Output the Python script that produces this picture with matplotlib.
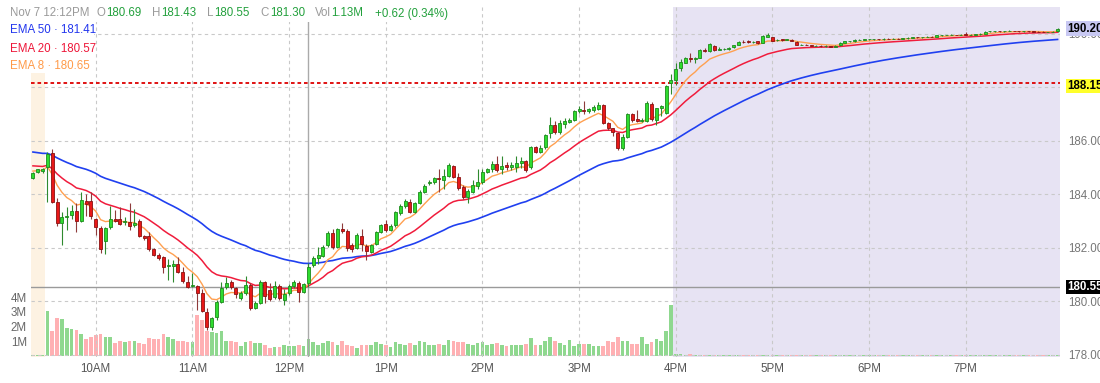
import matplotlib
matplotlib.use("Agg")
import matplotlib.pyplot as plt
from matplotlib.patches import Rectangle
import numpy as np

plt.rcParams['font.family'] = ['Liberation Sans', 'DejaVu Sans']

# ---------------- data (3-minute bars, first bar 9:21) ----------------
start_minute = 9 * 60 + 21
bar_step = 3

opens = [184.61, 184.83, 184.88, 185.04, 185.54, 183.73, 182.95, 183.17, 183.23, 183.38,
         183.00, 183.76, 183.76, 183.10, 182.74, 182.27, 182.77, 183.08, 183.08, 182.97,
         182.98, 182.85, 183.00, 182.45, 182.45, 181.95, 181.74, 181.65, 181.33, 181.33,
         181.39, 181.09, 180.74, 180.58, 180.58, 180.33, 179.62, 179.06, 179.41, 179.99,
         180.53, 180.72, 180.49, 180.12, 180.31, 180.62, 179.77, 179.96, 180.74, 180.43,
         180.18, 180.59, 180.06, 180.31, 180.58, 180.68, 180.37, 180.69, 181.36, 181.62,
         181.70, 182.11, 182.55, 182.05, 182.70, 182.64, 182.11, 182.00, 182.45, 182.07,
         181.86, 182.15, 182.61, 182.89, 182.67, 182.86, 183.32, 183.57, 183.73, 183.36,
         183.69, 184.10, 184.42, 184.46, 184.62, 184.54, 184.69, 185.08, 184.64, 184.29,
         183.90, 184.10, 184.32, 184.48, 184.85, 184.94, 185.13, 184.94, 185.10, 185.02,
         185.04, 185.17, 185.26, 185.02, 185.76, 185.60, 185.76, 186.29, 186.60, 186.35,
         186.64, 186.72, 186.79, 187.13, 187.17, 187.13, 187.16, 187.21, 187.35, 186.66,
         186.47, 186.29, 185.72, 186.16, 187.00, 186.81, 186.74, 186.76, 187.38, 186.79,
         187.22, 187.04, 188.18, 188.28, 188.72, 188.93, 189.10, 189.07, 189.12, 189.42,
         189.37, 189.55, 189.42, 189.45, 189.45, 189.50, 189.59, 189.71, 189.72, 189.70,
         189.72, 189.68, 189.90, 189.88, 189.77, 189.80, 189.78, 189.79, 189.71, 189.60,
         189.60, 189.58, 189.56, 189.56, 189.55, 189.54, 189.52, 189.58, 189.68, 189.72,
         189.72, 189.78, 189.78, 189.80, 189.80, 189.81, 189.80, 189.82, 189.81, 189.83,
         189.82, 189.84, 189.86, 189.88, 189.87, 189.88, 189.90, 189.89, 189.95, 189.96,
         189.96, 189.97, 189.96, 190.00, 189.97, 189.98, 189.99, 190.00, 190.10, 190.10,
         190.11, 190.10, 190.11, 190.12, 190.11, 190.10, 190.11, 190.10, 190.09, 190.08,
         190.07, 190.07, 190.10]
highs = [184.85, 184.97, 185.00, 185.58, 185.69, 183.86, 183.36, 183.54, 183.60, 183.67,
         184.10, 184.00, 184.10, 183.12, 182.82, 182.78, 183.58, 183.42, 183.54, 183.15,
         183.67, 183.46, 183.10, 182.50, 182.60, 182.00, 181.80, 181.70, 181.58, 181.55,
         181.65, 181.30, 180.95, 181.05, 180.62, 180.45, 179.76, 179.42, 180.05, 180.74,
         180.93, 180.80, 180.55, 180.40, 180.96, 180.70, 180.00, 180.80, 180.78, 180.70,
         180.75, 180.65, 180.45, 180.65, 180.80, 180.75, 180.70, 181.43, 181.70, 182.05,
         182.10, 182.62, 182.70, 182.75, 182.95, 182.70, 182.20, 182.55, 182.70, 182.15,
         182.15, 182.62, 182.90, 183.05, 182.88, 183.40, 183.65, 183.85, 183.85, 183.72,
         184.15, 184.40, 184.55, 184.65, 184.95, 184.95, 185.19, 185.12, 184.80, 184.35,
         184.20, 184.55, 184.95, 184.95, 185.00, 185.25, 185.45, 185.45, 185.20, 185.20,
         185.45, 185.40, 185.30, 185.80, 185.80, 185.85, 186.25, 186.88, 186.75, 186.80,
         186.85, 186.85, 187.15, 187.30, 187.50, 187.25, 187.35, 187.45, 187.40, 186.70,
         186.50, 186.35, 186.25, 187.05, 187.05, 187.16, 186.85, 187.50, 187.45, 187.25,
         187.35, 188.10, 188.50, 188.90, 189.05, 189.15, 189.30, 189.15, 189.45, 189.47,
         189.65, 189.60, 189.50, 189.48, 189.50, 189.60, 189.72, 189.78, 189.76, 189.74,
         189.74, 189.95, 190.02, 189.90, 189.80, 189.82, 189.82, 189.82, 189.73, 189.63,
         189.62, 189.60, 189.58, 189.58, 189.57, 189.56, 189.57, 189.70, 189.74, 189.74,
         189.80, 189.80, 189.82, 189.82, 189.83, 189.82, 189.84, 189.84, 189.85, 189.85,
         189.86, 189.88, 189.90, 189.89, 189.90, 189.92, 189.91, 189.97, 189.98, 189.98,
         189.99, 189.98, 190.00, 190.06, 190.00, 190.01, 190.02, 190.10, 190.12, 190.13,
         190.13, 190.13, 190.14, 190.13, 190.13, 190.13, 190.13, 190.12, 190.11, 190.10,
         190.09, 190.10, 190.22]
lows = [184.58, 184.80, 184.82, 183.73, 183.70, 182.82, 182.11, 182.67, 183.08, 182.61,
        182.98, 183.20, 183.10, 182.50, 181.80, 181.78, 182.70, 182.98, 182.85, 182.85,
        182.67, 182.78, 182.40, 182.30, 181.90, 181.70, 181.55, 181.08, 180.80, 180.74,
        181.05, 180.70, 180.50, 180.55, 179.68, 179.60, 178.93, 178.95, 179.30, 179.95,
        180.45, 180.45, 180.12, 180.05, 180.25, 179.70, 179.72, 179.90, 179.93, 180.00,
        180.10, 180.05, 179.87, 180.25, 180.50, 179.99, 180.30, 180.55, 181.30, 181.40,
        181.65, 182.05, 181.98, 182.00, 182.55, 181.90, 181.85, 181.95, 181.90, 181.55,
        181.80, 182.10, 182.55, 182.60, 182.62, 182.80, 183.25, 183.50, 183.30, 183.30,
        183.65, 184.05, 184.35, 184.40, 184.10, 184.20, 184.65, 184.60, 184.15, 183.85,
        183.69, 184.05, 184.20, 184.40, 184.80, 184.85, 184.85, 184.75, 184.90, 184.90,
        184.85, 185.00, 184.85, 184.95, 185.55, 185.55, 185.70, 186.10, 186.25, 186.25,
        186.50, 186.68, 186.75, 187.05, 187.00, 187.05, 187.10, 187.15, 186.65, 186.40,
        186.20, 185.65, 185.65, 186.10, 186.70, 186.70, 186.70, 186.70, 186.75, 186.60,
        186.95, 187.00, 187.75, 188.10, 188.62, 188.90, 188.96, 188.90, 189.10, 189.32,
        189.32, 189.35, 189.40, 189.42, 189.42, 189.48, 189.57, 189.66, 189.68, 189.68,
        189.64, 189.66, 189.88, 189.74, 189.74, 189.74, 189.76, 189.72, 189.58, 189.57,
        189.57, 189.55, 189.54, 189.53, 189.53, 189.50, 189.50, 189.56, 189.66, 189.70,
        189.70, 189.76, 189.76, 189.78, 189.79, 189.79, 189.79, 189.80, 189.80, 189.81,
        189.81, 189.83, 189.85, 189.86, 189.86, 189.87, 189.88, 189.94, 189.94, 189.95,
        189.95, 189.95, 189.95, 189.96, 189.95, 189.96, 189.97, 189.99, 190.08, 190.09,
        190.09, 190.09, 190.10, 190.10, 190.09, 190.09, 190.09, 190.08, 190.07, 190.06,
        190.06, 190.06, 190.08]
closes = [184.79, 184.94, 184.95, 185.51, 183.73, 182.95, 183.15, 183.20, 183.38, 183.00,
          183.79, 183.65, 183.20, 182.77, 181.95, 182.74, 183.08, 183.02, 182.90, 183.00,
          182.82, 182.95, 182.46, 182.39, 181.95, 181.74, 181.62, 181.28, 181.36, 181.40,
          181.11, 180.78, 180.55, 180.62, 180.33, 179.66, 179.06, 179.38, 179.99, 180.49,
          180.70, 180.53, 180.28, 180.31, 180.62, 179.75, 179.93, 180.74, 180.21, 180.08,
          180.58, 180.12, 180.28, 180.58, 180.72, 180.37, 180.65, 181.30, 181.64, 181.72,
          182.05, 182.55, 182.05, 182.70, 182.62, 181.99, 181.95, 182.49, 182.15, 181.89,
          182.11, 182.59, 182.86, 182.67, 182.83, 183.36, 183.57, 183.76, 183.36, 183.69,
          184.10, 184.33, 184.48, 184.60, 184.58, 184.69, 185.10, 184.64, 184.23, 183.92,
          184.13, 184.36, 184.48, 184.85, 184.94, 185.13, 184.92, 185.06, 185.02, 185.10,
          185.19, 185.26, 184.92, 185.76, 185.60, 185.72, 186.22, 186.60, 186.35, 186.66,
          186.76, 186.79, 187.12, 187.18, 187.12, 187.18, 187.26, 187.33, 186.68, 186.47,
          186.35, 185.72, 186.16, 187.00, 186.79, 186.74, 186.79, 187.41, 186.81, 187.22,
          187.30, 188.06, 188.28, 188.69, 188.96, 189.09, 189.07, 189.09, 189.42, 189.38,
          189.61, 189.40, 189.45, 189.45, 189.48, 189.59, 189.71, 189.70, 189.70, 189.71,
          189.66, 189.92, 189.96, 189.75, 189.78, 189.76, 189.80, 189.75, 189.59, 189.60,
          189.59, 189.56, 189.56, 189.55, 189.55, 189.52, 189.55, 189.68, 189.72, 189.72,
          189.78, 189.78, 189.80, 189.80, 189.81, 189.80, 189.82, 189.81, 189.83, 189.82,
          189.84, 189.86, 189.88, 189.87, 189.88, 189.90, 189.89, 189.95, 189.96, 189.96,
          189.97, 189.96, 189.98, 189.97, 189.98, 189.99, 190.00, 190.09, 190.10, 190.11,
          190.10, 190.11, 190.12, 190.11, 190.10, 190.11, 190.10, 190.09, 190.08, 190.07,
          190.07, 190.08, 190.20]
volumes_m = [0.04, 0.03, 0.04, 3.10, 1.70, 2.57, 2.50, 1.88, 1.82, 1.77,
             1.50, 1.13, 1.26, 1.38, 1.50, 1.31, 1.31, 0.85, 1.03, 0.92,
             1.03, 1.03, 0.85, 0.80, 1.24, 1.13, 1.13, 1.47, 1.31, 1.13,
             1.01, 1.01, 0.94, 0.92, 2.80, 2.46, 1.70, 1.59, 1.54, 1.66,
             1.03, 1.01, 0.94, 0.67, 0.90, 1.01, 0.83, 0.85, 0.74, 0.51,
             0.62, 0.57, 0.71, 0.67, 0.67, 0.71, 0.67, 1.13, 0.92, 0.74,
             0.85, 1.01, 0.90, 0.74, 1.00, 0.74, 0.67, 0.55, 0.74, 0.74,
             0.70, 0.90, 0.80, 0.75, 0.60, 0.90, 0.80, 0.70, 0.85, 0.70,
             1.00, 0.90, 0.75, 0.70, 0.80, 0.75, 1.10, 1.00, 0.95, 0.90,
             0.80, 0.70, 0.85, 0.90, 0.70, 0.80, 0.85, 0.70, 0.65, 0.70,
             0.75, 0.70, 0.80, 1.20, 0.75, 0.70, 1.00, 1.26, 1.03, 0.85,
             0.71, 1.06, 0.67, 0.80, 0.80, 0.80, 0.67, 0.67, 0.67, 0.99,
             0.92, 1.26, 0.99, 0.99, 0.78, 0.80, 1.31, 0.80, 0.94, 1.13,
             1.03, 1.66, 3.45, 0.10, 0.07, 0.05, 0.09, 0.04, 0.05, 0.03,
             0.04, 0.03, 0.02, 0.02, 0.02, 0.03, 0.03, 0.02, 0.02, 0.02,
             0.02, 0.03, 0.03, 0.02, 0.02, 0.02, 0.02, 0.02, 0.03, 0.02,
             0.02, 0.02, 0.02, 0.02, 0.02, 0.02, 0.02, 0.02, 0.02, 0.02,
             0.02, 0.02, 0.02, 0.02, 0.02, 0.02, 0.02, 0.02, 0.02, 0.02,
             0.02, 0.02, 0.02, 0.02, 0.02, 0.02, 0.02, 0.02, 0.02, 0.02,
             0.02, 0.02, 0.02, 0.03, 0.02, 0.02, 0.02, 0.03, 0.02, 0.02,
             0.02, 0.02, 0.02, 0.02, 0.02, 0.02, 0.02, 0.02, 0.02, 0.02,
             0.02, 0.02, 0.03]

# EMA starting values carried in from before the first visible bar
ema_seeds = {50: 185.62, 20: 185.10, 8: 184.90}

hour_ticks = [600, 660, 720, 780, 840, 900, 960, 1020, 1080, 1140]
hour_labels = ['10AM', '11AM', '12PM', '1PM', '2PM', '3PM', '4PM', '5PM', '6PM', '7PM']
price_ticks = [178, 180, 182, 184, 186, 188, 190]
vol_ticks = [1e6, 2e6, 3e6, 4e6]
vol_labels = ['1M', '2M', '3M', '4M']

last_price = 190.20
alert_price = 188.15
cross_price = 180.55
cross_minute = 12 * 60 + 12
session_open = 9 * 60 + 30
session_close = 16 * 60

header = [(10, 'Nov 7 12:12PM', 'g'), (96, 'O', 'g'), (106, '180.69', 'v'),
          (152, 'H', 'g'), (161, '181.43', 'v'), (207, 'L', 'g'), (214, '180.55', 'v'),
          (260, 'C', 'g'), (270, '181.30', 'v'), (315, 'Vol', 'g'), (331, '1.13M', 'v'),
          (375, '+0.62 (0.34%)', 'v')]
legend = [('EMA 50 · 181.41', '#2236ee', 30), ('EMA 20 · 180.57', '#ee1538', 49),
          ('EMA 8 · 180.65', '#ff9a48', 66)]

# ---------------- derived ----------------
o = np.array(opens); h = np.array(highs); l = np.array(lows); c = np.array(closes)
v = np.array(volumes_m) * 1e6
t = start_minute + bar_step * np.arange(len(c))
up = c >= o


def ema(vals, period, seed):
    a = 2.0 / (period + 1)
    out = []
    prev = seed
    for x in vals:
        prev = prev + a * (x - prev)
        out.append(prev)
    return np.array(out)

# ---------------- figure ----------------
W, H = 1100, 383
fig = plt.figure(figsize=(W / 100, H / 100), dpi=100)
fig.patch.set_facecolor('white')
L, R, T, B = 31, 1060, 7, 357
rect = [L / W, 1 - B / H, (R - L) / W, (B - T) / H]

xlim = (559.8, 1198.5)

axv = fig.add_axes(rect, zorder=1)
ax = fig.add_axes(rect, zorder=2)
ax.patch.set_alpha(0)

# volume axes (background)
axv.set_xlim(*xlim)
axv.set_ylim(-0.103e6, 24.03e6)
axv.axvspan(xlim[0], session_open - 1.5, ymin=0, ymax=(B - 73) / (B - T), color='#fdf2e2', lw=0, zorder=0)
axv.axvspan(session_close - 1.5, xlim[1], color='#e7e3f3', lw=0, zorder=0)
vcol = np.where(up, '#8fd88f', '#ffb0b3')
axv.bar(t, v, width=2.2, color=vcol, edgecolor='none', zorder=2)
for s in axv.spines.values():
    s.set_visible(False)
axv.set_xticks([])
axv.set_yticks(vol_ticks)
axv.set_yticklabels(vol_labels)
axv.tick_params(axis='y', length=0, pad=3, labelsize=8.3, labelcolor='#666666')

# price axes
ax.set_xlim(*xlim)
ax.set_ylim(177.925, 191.009)
for s in ax.spines.values():
    s.set_visible(False)
ax.set_yticks(price_ticks)
ax.set_yticklabels(['%.2f' % p for p in price_ticks])
ax.yaxis.tick_right()
ax.tick_params(axis='y', length=0, pad=6, labelsize=8.3, labelcolor='#777777')
ax.set_xticks(hour_ticks)
ax.set_xticklabels(hour_labels)
ax.tick_params(axis='x', length=0, pad=4, labelsize=8.3, labelcolor='#555555')
ax.grid(True, color='#c9c9c9', linestyle=(0, (3, 3)), linewidth=0.8, zorder=0)
ax.set_axisbelow(True)

# crosshair and levels
ax.axhline(cross_price, color='#9a9a9a', lw=1.0, zorder=1.5)
ax.axvline(cross_minute, color='#aaaaaa', lw=1.0, zorder=1.5)
ax.axhline(alert_price, color='#dd0000', lw=1.3, linestyle=(0, (2, 1.6)), zorder=1.6)

# EMAs
ax.plot(t, ema(c, 50, ema_seeds[50]), color='#2040f0', lw=1.2, zorder=2.5)
ax.plot(t, ema(c, 20, ema_seeds[20]), color='#f01c3c', lw=1.1, zorder=2.6)
ax.plot(t, ema(c, 8, ema_seeds[8]), color='#ffa050', lw=1.0, zorder=2.7)

# candles
wick_col = np.where(up, '#2f8a2f', '#8e3b3b')
ax.vlines(t, l, h, colors=wick_col, lw=0.8, zorder=3)
body_fc = np.where(up, '#2fdc2f', '#e81818')
body_ec = np.where(up, '#1d8a1d', '#8a1212')
ax.bar(t, c - o, bottom=o, width=1.9, color=body_fc, edgecolor=body_ec, linewidth=0.6, zorder=3.5)

# white boxes behind header / legend
ax.add_patch(Rectangle((L / W, 1 - 22 / H), (445 - L) / W, 15 / H, transform=fig.transFigure,
                       facecolor='white', edgecolor='none', zorder=5))
ax.add_patch(Rectangle((L / W, 1 - 73 / H), (94 - L) / W, 51 / H, transform=fig.transFigure,
                       facecolor='white', edgecolor='none', zorder=5))

gray = '#9a9a9a'
green = '#22a03c'
for px, txt, kind in header:
    fig.text(px / W, 1 - 13.5 / H, txt, color=gray if kind == 'g' else green,
             fontsize=8.3, va='center', ha='left', zorder=6)
for txt, col, py in legend:
    fig.text(10 / W, 1 - py / H, txt, color=col, fontsize=8.3, va='center', ha='left', zorder=6)

# right price flags
def flag(price, py, bg, fg):
    fig.text(1067 / W, 1 - py / H, '%.2f' % price, color=fg, fontsize=8.3, fontweight='bold',
             va='center', ha='left', zorder=7,
             bbox=dict(boxstyle='square,pad=0.12', facecolor=bg, edgecolor='none'))

flag(last_price, 28.5, '#c8c8f2', 'black')
flag(alert_price, 86, '#ffff2a', 'black')
flag(cross_price, 287, 'black', 'white')

fig.savefig('out.png', dpi=100)
